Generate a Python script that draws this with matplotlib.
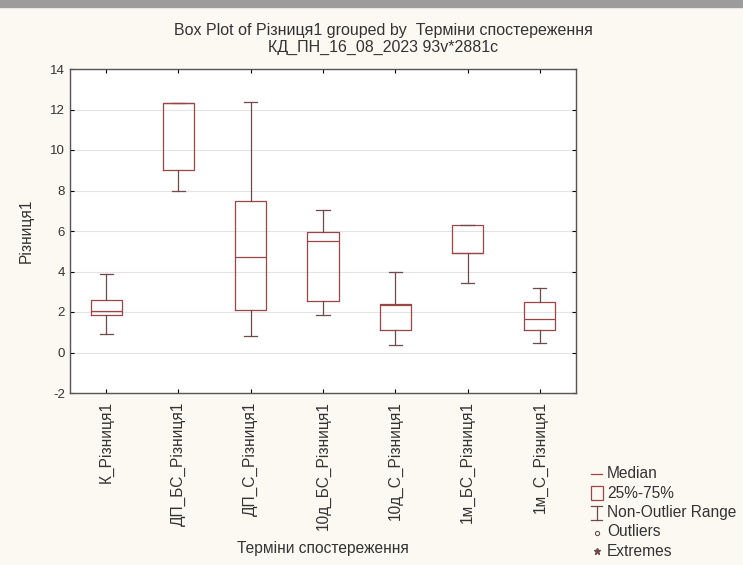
import numpy as np
import matplotlib
matplotlib.use("Agg")
import matplotlib.pyplot as plt
from matplotlib.patches import Rectangle
from matplotlib.lines import Line2D

plt.rcParams['font.family'] = ['Liberation Sans', 'DejaVu Sans']
plt.rcParams['axes.unicode_minus'] = False

# ── Data ──────────────────────────────────────────────────────────────
GROUPS = ['К_Різниця1', 'ДП_БС_Різниця1', 'ДП_С_Різниця1', '10д_БС_Різниця1',
          '10д_С_Різниця1', '1м_БС_Різниця1', '1м_С_Різниця1']
WHIS_LO = [0.9, 8.0, 0.8, 1.85, 0.35, 3.45, 0.45]
Q1      = [1.85, 9.0, 2.1, 2.55, 1.1, 4.9, 1.1]
MEDIAN  = [2.05, 12.3, 4.7, 5.5, 2.35, 4.9, 1.65]
Q3      = [2.6, 12.3, 7.5, 5.95, 2.4, 6.3, 2.5]
WHIS_HI = [3.9, 12.3, 12.35, 7.05, 4.0, 6.3, 3.2]

BOX_C = '#9a4646'
WHIS_C = '#6e4a4a'
BG = '#fcf9f2'
FS = 11.2

stats = [dict(label=g, whislo=lo, q1=a, med=m, q3=b, whishi=hi, fliers=[])
         for g, lo, a, m, b, hi in zip(GROUPS, WHIS_LO, Q1, MEDIAN, Q3, WHIS_HI)]

fig = plt.figure(figsize=(7.43, 5.65), dpi=100, facecolor=BG)
# window-chrome bar at the very top
fig.patches.append(Rectangle((0, 1 - 7/565), 1, 7/565, transform=fig.transFigure,
                             color='#9c9c9c', zorder=0))

ax = fig.add_axes([70/743, 1 - 393/565, 506/743, 324/565])
ax.set_facecolor('white')
ax.bxp(stats, positions=np.arange(1, len(GROUPS) + 1), widths=0.43,
       showfliers=False, patch_artist=False,
       boxprops=dict(color=BOX_C, lw=0.9),
       whiskerprops=dict(color=WHIS_C, lw=0.9),
       capprops=dict(color=WHIS_C, lw=0.9),
       medianprops=dict(color=BOX_C, lw=0.9),
       capwidths=0.18)

ax.set_xlim(0.5, len(GROUPS) + 0.5)
ax.set_ylim(-2, 14)
ax.set_yticks(np.arange(-2, 15, 2))
ax.set_xticks(np.arange(1, len(GROUPS) + 1))
ax.set_xticklabels(GROUPS, rotation=90, fontsize=FS, color='#333333')
ax.tick_params(axis='y', labelsize=9.5, labelcolor='#333333', direction='in',
               length=3, right=True)
ax.tick_params(axis='x', direction='in', length=3, top=True, pad=6)
ax.yaxis.grid(True, color='#e4e4e4', lw=0.8)
ax.set_axisbelow(True)
for s in ax.spines.values():
    s.set_color('#555555')
    s.set_linewidth(1.0)

ax.set_ylabel('Різниця1', fontsize=FS, color='#333333', labelpad=12)
ax.set_xlabel('Терміни спостереження', fontsize=FS, color='#333333', labelpad=8)

fig.text(383/743, 1 - 30/565, 'Box Plot of Різниця1 grouped by  Терміни спостереження',
         ha='center', va='center', fontsize=11.5, color='#333333')
fig.text(383/743, 1 - 47/565, 'КД_ПН_16_08_2023 93v*2881c',
         ha='center', va='center', fontsize=11.5, color='#333333')

# ── legend, drawn by hand like the original ───────────────────────────
def fx(px): return px / 743
def fy(py): return 1 - py / 565

tx = fx(607)
rows = [474, 493, 513, 532, 551]
labels = ['Median', '25%-75%', 'Non-Outlier Range', 'Outliers', 'Extremes']
for y, t in zip(rows, labels):
    fig.text(tx, fy(y), t, ha='left', va='center', fontsize=FS, color='#333333')
# median dash
fig.add_artist(Line2D([fx(591), fx(602)], [fy(474), fy(474)], color=BOX_C, lw=0.9))
# box
fig.add_artist(Rectangle((fx(591), fy(500)), fx(12), 14/565, fill=False,
                         edgecolor=BOX_C, lw=0.9, transform=fig.transFigure))
# whisker symbol
fig.add_artist(Line2D([fx(596.5), fx(596.5)], [fy(506), fy(520)], color=WHIS_C, lw=0.9))
fig.add_artist(Line2D([fx(591), fx(602)], [fy(506), fy(506)], color=WHIS_C, lw=0.9))
fig.add_artist(Line2D([fx(591), fx(602)], [fy(520), fy(520)], color=WHIS_C, lw=0.9))
# outlier / extreme markers
fig.add_artist(Line2D([fx(596.5)], [fy(533)], marker='o', ms=3, mfc='none',
                      mec=WHIS_C, mew=0.8, lw=0))
fig.add_artist(Line2D([fx(596.5)], [fy(551)], marker='*', ms=4.5, color=WHIS_C, lw=0))

fig.savefig('out.png', dpi=100, facecolor=BG)
